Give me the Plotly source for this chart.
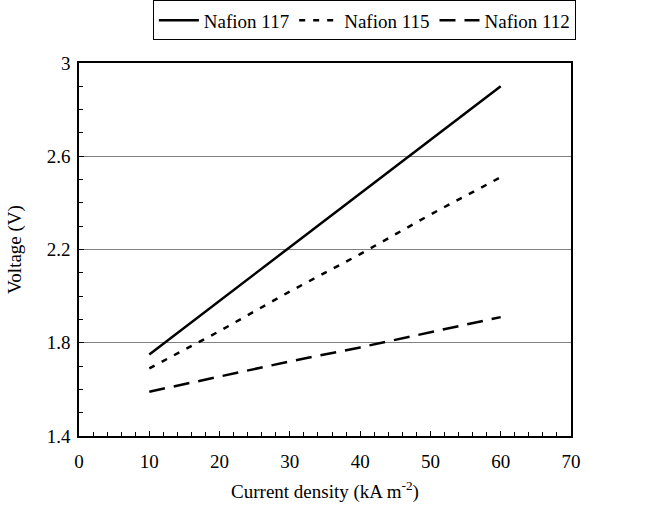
import plotly.graph_objects as go

current = [10, 20, 30, 40, 50, 60]
v117 = [1.75, 1.98, 2.21, 2.44, 2.67, 2.90]
v115 = [1.69, 1.85, 2.02, 2.18, 2.35, 2.51]
v112 = [1.59, 1.655, 1.72, 1.78, 1.845, 1.91]

names = ["Nafion 117", "Nafion 115", "Nafion 112"]
series = [v117, v115, v112]
dashes = ["solid", "6px,8px", "16px,9px"]

y_ticks = [1.4, 1.8, 2.2, 2.6, 3.0]
y_ticktext = ["1.4", "1.8", "2.2", "2.6", "3"]

fig = go.Figure()
for n, v, d in zip(names, series, dashes):
    fig.add_trace(go.Scatter(x=current, y=v, mode="lines", name=n,
                             line=dict(color="black", width=2.5, dash=d)))

FAM = "Times New Roman, Liberation Serif, serif"
SZ = 19
font = dict(family=FAM, size=SZ, color="black")
fig.update_layout(
    width=645, height=507,
    margin=dict(l=79, r=74, t=63, b=71, autoexpand=False),
    paper_bgcolor="white", plot_bgcolor="white",
    font=font,
    showlegend=True,
    legend=dict(orientation="h", x=0.58, xanchor="center", y=1.114, yanchor="middle",
                bordercolor="black", borderwidth=1, itemwidth=40,
                font=dict(family=FAM, size=SZ, color="black"),
                tracegroupgap=0),
    xaxis=dict(range=[0, 70], tick0=0, dtick=10, showgrid=False, zeroline=False,
               showline=True, linecolor="black", linewidth=1.5, mirror=True,
               ticks="inside", ticklen=5, tickcolor="black", automargin=False,
               ticklabelstandoff=7,
               minor=dict(ticks="inside", dtick=2, ticklen=4, tickcolor="black"),
               title=dict(text="Current density (kA m<sup>-2</sup>)", standoff=14,
                          font=dict(family=FAM, size=SZ, color="black")),
               tickfont=dict(family=FAM, size=SZ, color="black")),
    yaxis=dict(range=[1.4, 3.0], tickvals=y_ticks, ticktext=y_ticktext, showgrid=True,
               gridcolor="#808080", gridwidth=1, zeroline=False,
               showline=True, linecolor="black", linewidth=1.5, mirror=True,
               ticks="inside", ticklen=5, tickcolor="black", automargin=False,
               ticklabelstandoff=3,
               minor=dict(ticks="inside", tick0=1.4, dtick=0.1, ticklen=4, tickcolor="black", showgrid=False),
               title=dict(text="Voltage (V)", standoff=20,
                          font=dict(family=FAM, size=SZ, color="black")),
               tickfont=dict(family=FAM, size=SZ, color="black")),
)
fig.write_html("out.html")
